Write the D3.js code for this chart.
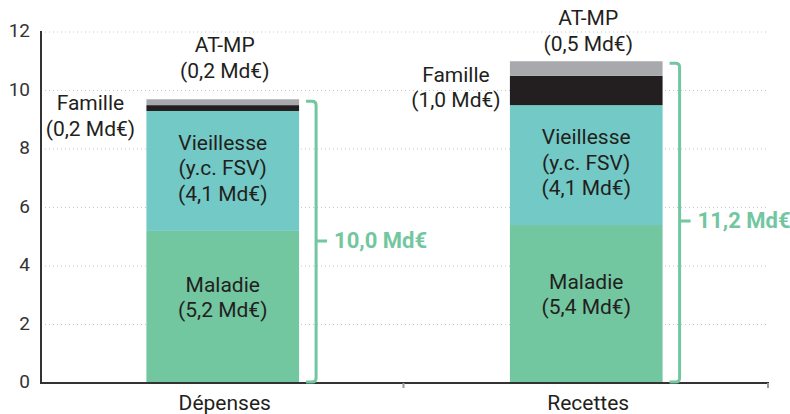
<html><head>
<script src="https://d3js.org/d3.v7.min.js"></script>
<style>
  body { margin:0; background:#fff; }
  text { font-family: Roboto, "Noto Sans", sans-serif; fill:#231f20; }
</style>
</head>
<body>
<svg id="chart" width="790" height="414"></svg>
<script>
  // data
  const categories = ["Dépenses", "Recettes"];
  const branches = ["Maladie", "Vieillesse", "Famille", "AT-MP"];
  const depenses = [5.2, 4.1, 0.2, 0.2];
  const recettes = [5.4, 4.1, 1.0, 0.5];
  const totals = ["10,0 Md€", "11,2 Md€"];
  const yTicks = [0, 2, 4, 6, 8, 10, 12];

  const colors = { "Maladie":"#72c6a0", "Vieillesse":"#72c9c5", "Famille":"#231f20", "AT-MP":"#a7a9ac" };

  let svg = d3.select("svg#chart");

  let x = d3.scaleBand().domain(categories).range([41, 768]).paddingInner(0.58).paddingOuter(0.29);
  let y = d3.scaleLinear().domain([0, 12]).range([383, 32]);

  // grid
  yTicks.filter(d => d > 0).forEach(d => {
    svg.append("line")
       .attr("x1", 41).attr("x2", 768)
       .attr("y1", y(d)).attr("y2", y(d))
       .style("stroke", "#c8c8c8")
       .style("stroke-width", 1)
       .style("stroke-dasharray", "1,3");
  });

  // y tick labels
  yTicks.forEach(d => {
    svg.append("text")
       .text(d)
       .attr("x", 30).attr("y", y(d))
       .style("font-size", "19px")
       .style("text-anchor", "end")
       .style("dominant-baseline", "middle")
       .style("fill", "#333");
  });

  const values = { "Dépenses": depenses, "Recettes": recettes };

  // stacked bars
  let segs = {};
  categories.forEach(c => {
    let acc = 0;
    segs[c] = [];
    values[c].forEach((v, i) => {
      segs[c].push({ name: branches[i], v: v, y0: acc, y1: acc + v });
      svg.append("rect")
         .attr("x", x(c))
         .attr("width", x.bandwidth())
         .attr("y", y(acc + v))
         .attr("height", y(acc) - y(acc + v))
         .style("fill", colors[branches[i]]);
      acc += v;
    });
  });

  // axes lines
  svg.append("line").attr("x1", 41).attr("x2", 41).attr("y1", y(12) - 1).attr("y2", y(0) + 1)
     .style("stroke", "#333").style("stroke-width", 2);
  svg.append("line").attr("x1", 40).attr("x2", 769).attr("y1", y(0)).attr("y2", y(0))
     .style("stroke", "#333").style("stroke-width", 2);
  [x(categories[1]) - x.step() * x.paddingInner() / 2 - 1, 768].forEach(px => {
    svg.append("line").attr("x1", px).attr("x2", px).attr("y1", y(0)).attr("y2", y(0) + 5)
       .style("stroke", "#999").style("stroke-width", 2);
  });

  // category labels
  categories.forEach(c => {
    svg.append("text")
       .text(c)
       .attr("x", x(c) + x.bandwidth() / 2 + 2)
       .attr("y", 404)
       .style("font-size", "21px")
       .style("text-anchor", "middle")
       .style("dominant-baseline", "middle");
  });

  function label(lines, cx, cy, size) {
    let lh = 25.5;
    lines.forEach((t, i) => {
      svg.append("text")
         .text(t)
         .attr("x", cx)
         .attr("y", cy + (i - (lines.length - 1) / 2) * lh)
         .style("font-size", (size || 21) + "px")
         .style("text-anchor", "middle")
         .style("dominant-baseline", "middle");
    });
  }

  const fmt = v => "(" + d3.format(".1f")(v).replace(".", ",") + " Md€)";

  categories.forEach((c, ci) => {
    let cx = x(c) + x.bandwidth() / 2;
    let s = segs[c];
    // Maladie
    label([s[0].name, fmt(s[0].v)], cx, y((s[0].y0 + s[0].y1) / 2) - 8);
    // Vieillesse
    label([s[1].name, "(y.c. FSV)", fmt(s[1].v)], cx, y((s[1].y0 + s[1].y1) / 2) - 1);
    // AT-MP above bar
    label([s[3].name, fmt(s[3].v)], cx + 2, y(s[3].y1) - (ci === 0 ? 40 : 29));
    // Famille to the left
    let fy = ci === 0 ? 117.5 : 89;
    label([s[2].name, fmt(s[2].v)], x(c) - 56 + (ci === 0 ? 0 : 2), fy);
  });

  // brackets
  categories.forEach((c, ci) => {
    let top = d3.sum(values[c]);
    let bx = x(c) + x.bandwidth() + 7;
    let w = 10, r = 4;
    let yt = y(top) + 2, yb = y(0) - 1;
    let ym = ci === 0 ? 241 : 221;
    let path = d3.path();
    path.moveTo(bx, yt);
    path.lineTo(bx + w - r, yt);
    path.quadraticCurveTo(bx + w, yt, bx + w, yt + r);
    path.lineTo(bx + w, yb - r);
    path.quadraticCurveTo(bx + w, yb, bx + w - r, yb);
    path.lineTo(bx, yb);
    path.moveTo(bx + w, ym);
    path.lineTo(bx + w + 11, ym);
    svg.append("path")
       .attr("d", path.toString())
       .style("fill", "none")
       .style("stroke", "#72c6a0")
       .style("stroke-width", 3);
    svg.append("text")
       .text(totals[ci])
       .attr("x", bx + w + 18)
       .attr("y", ym + 1)
       .style("font-size", "22px")
       .style("font-weight", "bold")
       .style("dominant-baseline", "middle")
       .style("fill", "#72c6a0");
  });
</script>
</body>
</html>
